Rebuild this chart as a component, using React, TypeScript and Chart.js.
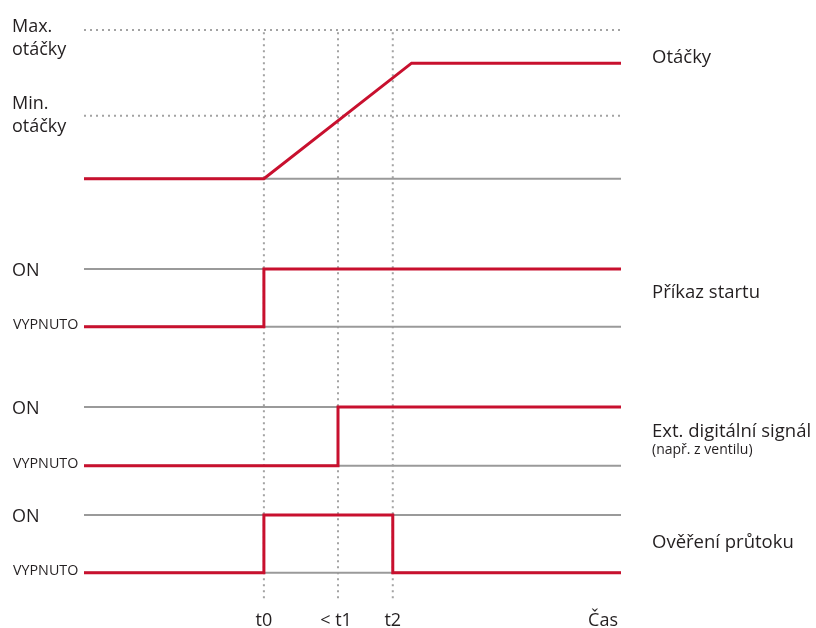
import React, { useEffect, useRef } from "react";
import { Chart, registerables } from "chart.js";

Chart.register(...registerables);

// Time axis (arbitrary units, 0..10)
const timeEnd = 10;
const timeMarks = [3.35, 4.73, 5.75];
const timeLabels = ["t0", "< t1", "t2"];
const axisLabel = "Čas";

// Vertical levels (0..100)
const speedMax = 100;
const speedMin = 85;
const speedBase = 74;
const speedTop = 94.2;
const rampEnd = 6.1;

const startOn = 58.2;
const startOff = 48.1;
const extOn = 34.1;
const extOff = 23.8;
const flowOn = 15.2;
const flowOff = 5.1;

// Signals
const speedTimes = [0, 3.35, rampEnd, timeEnd];
const speedValues = [speedBase, speedBase, speedTop, speedTop];
const startTimes = [0, 3.35, 3.35, timeEnd];
const startValues = [startOff, startOff, startOn, startOn];
const extTimes = [0, 4.73, 4.73, timeEnd];
const extValues = [extOff, extOff, extOn, extOn];
const flowTimes = [0, 3.35, 3.35, 5.75, 5.75, timeEnd];
const flowValues = [flowOff, flowOff, flowOn, flowOn, flowOff, flowOff];

const grayLevels = [speedBase, startOn, startOff, extOn, extOff, flowOn, flowOff];
const dottedLevels = [speedMax, speedMin];
const dottedTop = 99.6;

const signalNames = ["Otáčky", "Příkaz startu", "Ext. digitální signál", "Ověření průtoku"];
const signalNote = "(např. z ventilu)";
const onLabel = "ON";
const offLabel = "VYPNUTO";
const maxLabel = ["Max.", "otáčky"];
const minLabel = ["Min.", "otáčky"];

const RED = "#c8102e";
const GRAY = "#9a9a9a";
const DOT = "#a3a3a3";
const TEXT = "#231f20";
const FONT = "'Open Sans', sans-serif";

const pts = (xs: number[], ys: number[]) => xs.map((x, i) => ({ x, y: ys[i] }));

export default function App() {
  const ref = useRef<HTMLCanvasElement | null>(null);

  useEffect(() => {
    if (!ref.current) return;

    const redSets = [
      pts(speedTimes, speedValues),
      pts(startTimes, startValues),
      pts(extTimes, extValues),
      pts(flowTimes, flowValues),
    ].map((data) => ({
      data,
      borderColor: RED,
      borderWidth: 3,
      showLine: true,
      pointRadius: 0,
      clip: false as any,
      borderCapStyle: "butt" as const,
      borderJoinStyle: "miter" as const,
    }));

    const graySets = grayLevels.map((lv) => ({
      data: [
        { x: 0, y: lv },
        { x: timeEnd, y: lv },
      ],
      borderColor: GRAY,
      borderWidth: 2,
      showLine: true,
      pointRadius: 0,
      clip: false as any,
    }));

    const dotH = dottedLevels.map((lv) => ({
      data: [
        { x: 0, y: lv },
        { x: timeEnd, y: lv },
      ],
      borderColor: DOT,
      borderWidth: 2,
      borderDash: [2, 4],
      showLine: true,
      pointRadius: 0,
      clip: false as any,
    }));

    const dotV = timeMarks.map((t) => ({
      data: [
        { x: t, y: dottedTop },
        { x: t, y: 0 },
      ],
      borderColor: DOT,
      borderWidth: 2,
      borderDash: [2, 4],
      showLine: true,
      pointRadius: 0,
      clip: false as any,
    }));

    const textPlugin = {
      id: "texts",
      afterDatasetsDraw(chart: any) {
        const { ctx, scales } = chart;
        const xs = scales.x;
        const ys = scales.y;
        const X = (v: number) => xs.getPixelForValue(v);
        const Y = (v: number) => ys.getPixelForValue(v);
        ctx.save();
        ctx.fillStyle = TEXT;
        ctx.textBaseline = "alphabetic";
        ctx.textAlign = "left";
        const L = 12;
        ctx.font = `18px ${FONT}`;
        ctx.fillText(maxLabel[0], L, Y(speedMax) + 2);
        ctx.fillText(maxLabel[1], L, Y(speedMax) + 25);
        ctx.fillText(minLabel[0], L, Y(speedMin) - 7);
        ctx.fillText(minLabel[1], L, Y(speedMin) + 16);

        [startOn, extOn, flowOn].forEach((lv) => ctx.fillText(onLabel, L, Y(lv) + 7));
        ctx.font = `14.3px ${FONT}`;
        [startOff, extOff, flowOff].forEach((lv) => ctx.fillText(offLabel, L + 1, Y(lv) + 2));

        const R = xs.right + 31;
        ctx.font = `18.5px ${FONT}`;
        ctx.fillText(signalNames[0], R, Y(speedTop));
        ctx.fillText(signalNames[1], R, (Y(startOn) + Y(startOff)) / 2);
        ctx.fillText(signalNames[2], R, (Y(extOn) + Y(extOff)) / 2 + 1);
        ctx.fillText(signalNames[3], R, (Y(flowOn) + Y(flowOff)) / 2 + 4);
        ctx.font = `14px ${FONT}`;
        ctx.fillText(signalNote, R, (Y(extOn) + Y(extOff)) / 2 + 18);

        ctx.font = `18px ${FONT}`;
        ctx.textAlign = "center";
        const by = ys.bottom + 24;
        timeMarks.forEach((t, i) => ctx.fillText(timeLabels[i], X(t) - (i === 1 ? 2 : 0), by));
        ctx.textAlign = "right";
        ctx.fillText(axisLabel, xs.right - 3, by);
        ctx.restore();
      },
    };

    const chart = new Chart(ref.current, {
      type: "scatter",
      data: { datasets: [...redSets, ...graySets, ...dotH, ...dotV] as any },
      options: {
        animation: false,
        responsive: false,
        maintainAspectRatio: false,
        events: [],
        layout: { padding: { left: 84, right: 195, top: 30, bottom: 26 } },
        plugins: { legend: { display: false }, tooltip: { enabled: false } },
        scales: {
          x: { type: "linear", min: 0, max: timeEnd, display: false },
          y: { type: "linear", min: 0, max: 100, display: false },
        },
      },
      plugins: [textPlugin],
    });
    return () => chart.destroy();
  }, []);

  return (
    <div style={{ position: "fixed", left: 0, top: 0, width: 816, height: 628, background: "#fff" }}>
      <canvas ref={ref} width={816} height={628} style={{ width: 816, height: 628, display: "block" }} />
    </div>
  );
}
